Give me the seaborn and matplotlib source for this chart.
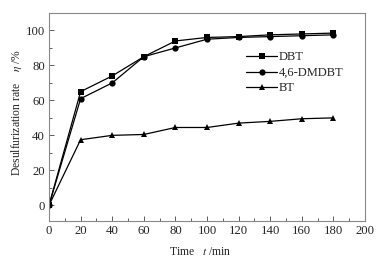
import pandas as pd
import matplotlib.pyplot as plt
import seaborn as sns
from matplotlib.ticker import MultipleLocator

sns.set_theme(style="ticks")
plt.rcParams['font.family'] = ['Liberation Serif', 'DejaVu Serif']
plt.rcParams['mathtext.fontset'] = 'stix'

time_min = [0, 20, 40, 60, 80, 100, 120, 140, 160, 180]
dbt = [0, 65, 74, 85, 94, 96, 96.5, 97.5, 98, 98.5]
dmdbt = [0, 61, 70, 85, 90, 95, 96, 96.5, 97, 97.5]
bt = [0, 37.5, 40, 40.5, 44.5, 44.5, 47, 48, 49.5, 50]
series_names = ['DBT', '4,6-DMDBT', 'BT']

df = pd.concat([
    pd.DataFrame({'t': time_min, 'eta': vals, 'series': name})
    for name, vals in zip(series_names, [dbt, dmdbt, bt])
])

fig = plt.figure(figsize=(3.84, 2.65), dpi=100)
ax = fig.add_axes([0.1276, 0.166, 0.823, 0.785])

sns.lineplot(data=df, x='t', y='eta', style='series', hue='series',
             palette=['black'] * 3, markers={'DBT': 's', '4,6-DMDBT': 'o', 'BT': '^'},
             dashes=False, markersize=4.5, linewidth=0.9, markeredgewidth=0,
             ax=ax)

ax.set_xlim(0, 200)
ax.set_ylim(-9, 110)
ax.xaxis.set_major_locator(MultipleLocator(20))
ax.xaxis.set_minor_locator(MultipleLocator(10))
ax.yaxis.set_major_locator(MultipleLocator(20))
ax.yaxis.set_minor_locator(MultipleLocator(10))
ax.tick_params(which='both', direction='in', top=False, right=False,
               labelsize=9.2, color='#444444', pad=3)
ax.tick_params(which='major', length=3.6, width=0.6)
ax.tick_params(which='minor', length=2, width=0.6)
for s in ax.spines.values():
    s.set_color('#888888')
    s.set_linewidth(0.8)

ax.set_xlabel(r'Time   $\mathit{t}$ /min', fontsize=8.4)
ax.xaxis.set_label_coords(0.48, -0.12)
ax.set_ylabel(r'Desulfurization rate    $\mathit{\eta}$ /%', fontsize=8.4)
ax.yaxis.set_label_coords(-0.078, 0.52)

leg = ax.legend(loc='upper left', bbox_to_anchor=(0.623, 0.815), frameon=False,
                fontsize=9, handlelength=2.5, handletextpad=0.1,
                labelspacing=0.28, borderpad=0, borderaxespad=0, title=None)

fig.savefig('out.png', dpi=100)
